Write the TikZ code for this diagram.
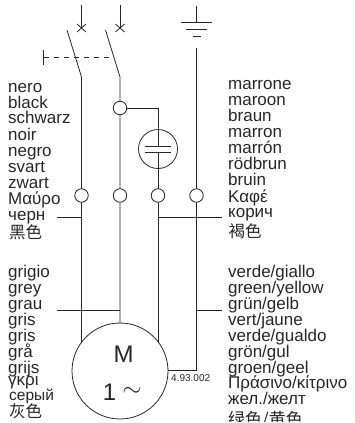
\documentclass[tikz,border=0pt]{standalone}
\usepackage{fontspec}
\setmainfont{Liberation Sans}
\newfontfamily\cjkf{Noto Sans CJK SC}
\tikzset{
 wire/.style={draw=black!85,line width=0.8pt},
 term/.style={circle,draw=black!85,line width=0.8pt,fill=white,minimum size=13.5pt,inner sep=0pt},
 lab/.style={anchor=base west,inner sep=0pt,text=black!85,font=\fontsize{17}{17}\selectfont},
 cjkl/.style={lab,font=\cjkf\fontsize{16.5}{17}\selectfont},
}
\begin{document}
\begin{tikzpicture}[x=1pt,y=-1pt]
\path[use as bounding box] (0,0) rectangle (355,423);
\begin{scope}
\clip (0,0) rectangle (355,421.5);
% coordinates
\coordinate (aT) at (81.5,5); \coordinate (bT) at (120,5);
\coordinate (aF) at (81.5,28); \coordinate (bF) at (120,28);
\coordinate (aB) at (67,30); \coordinate (bB) at (105.5,30);
\coordinate (aE) at (81.5,77); \coordinate (bE) at (120,77);
\node[circle,draw=black!85,line width=0.8pt,minimum size=96pt,inner sep=0pt] (motor) at (120,371) {};
\coordinate (aM) at (81.5,343); \coordinate (bM) at (120,323); \coordinate (cM) at (158,343);
\coordinate (dR) at (196.5,370);
\coordinate (dT) at (196.5,48); \coordinate (eT) at (196.5,6); \coordinate (eB) at (196.5,22);
% wires
\draw[wire] (aT)--(aF); \draw[wire] (bT)--(bF);
\draw[wire] (aB)--(aE)--(aM);
\draw[wire] (bB)--(bE)--(bM);
\draw[wire] (158,108)--(158,146);
\draw[wire] (158,152)--(cM);
\draw[wire] (dT)--(dR)--(168,370);
\draw[wire] (eT)--(eB);
\draw[wire] (181,22)--(212,22);
\draw[wire] (186,29)--(207,29);
\draw[wire] (192.5,36)--(201,36);
% crosses
\draw[wire] (77,24)--(86,32) (77,32)--(86,24);
\draw[wire] (115.5,24)--(124.5,32) (115.5,32)--(124.5,24);
% mechanical link
\draw[wire] (43,50)--(43,65);
\draw[wire,dash pattern=on 5pt off 5pt] (44,57.5)--(114,57.5);
% capacitor
\node[circle,draw=black!85,line width=0.8pt,minimum size=39pt,inner sep=0pt] (cap) at (158,149) {};
\draw[wire] (145,146)--(171,146) (145,152)--(171,152);
% terminals
\node[term] (t0) at (120,108) {};
\draw[wire] (t0)--(158,108);
\node[term] (t1) at (81.5,195.5) {};
\node[term] (t2) at (120,195.5) {};
\node[term] (t3) at (158,195.5) {};
\node[term] (t4) at (196.5,195.5) {};
% tap lines
\draw[wire] (57,217.5)--(81.5,217.5);
\draw[wire] (158,217.5)--(222,217.5);
\draw[wire] (57,310)--(120,310);
\draw[wire] (196.5,310)--(222,310);
% motor text
\node[anchor=base,inner sep=0pt,text=black!85,font=\fontsize{24}{24}\selectfont] (mM) at (123.5,362) {M};
\node[anchor=base,inner sep=0pt,text=black!85,font=\fontsize{24}{24}\selectfont] (m1) at (109.5,400) {1};
\node[anchor=center,inner sep=0pt,text=black!85,font=\fontsize{24}{24}\selectfont] (mt) at (132,392) {$\sim$};
\node[anchor=base west,inner sep=0pt,text=black!85,font=\fontsize{10}{10}\selectfont] (ref) at (171,381.5) {4.93.002};
% left labels
\node[lab] (l1) at (8,92) {nero};
\node[lab] (l2) at (8,108) {black};
\node[lab] (l3) at (8,123.5) {schwarz};
\node[lab] (l4) at (8,140) {noir};
\node[lab] (l5) at (8,156) {negro};
\node[lab] (l6) at (8,172) {svart};
\node[lab] (l7) at (8,188) {zwart};
\node[lab] (l8) at (8,204) {Μαύρο};
\node[lab] (l9) at (8,220) {черн};
\node[cjkl] (l10) at (9,238) {黑色};
\node[lab] (g1) at (8,277) {grigio};
\node[lab] (g2) at (8,293) {grey};
\node[lab] (g3) at (8,309) {grau};
\node[lab] (g4) at (8,325) {gris};
\node[lab] (g5) at (8,341) {gris};
\node[lab] (g6) at (8,357) {grå};
\node[lab] (g7) at (8,373) {grijs};
\node[lab] (g8) at (8,385) {γκρι};
\node[lab,font=\fontsize{15.5}{16}\selectfont] (g9) at (9,400) {серый};
\node[cjkl] (g10) at (9,417) {灰色};
% right labels
\node[lab] (r1) at (228,89) {marrone};
\node[lab] (r2) at (228,105) {maroon};
\node[lab] (r3) at (228,121) {braun};
\node[lab] (r4) at (228,137) {marron};
\node[lab] (r5) at (228,153) {marrón};
\node[lab] (r6) at (228,169) {rödbrun};
\node[lab] (r7) at (228,185) {bruin};
\node[lab] (r8) at (228,202) {Καφέ};
\node[lab] (r9) at (228,217) {корич};
\node[cjkl] (r10) at (228.5,237) {褐色};
\node[lab] (s1) at (228,277) {verde/giallo};
\node[lab] (s2) at (228,293) {green/yellow};
\node[lab] (s3) at (228,309) {grün/gelb};
\node[lab] (s4) at (228,325) {vert/jaune};
\node[lab] (s5) at (228,341) {verde/gualdo};
\node[lab] (s6) at (228,357) {grön/gul};
\node[lab] (s7) at (228,373) {groen/geel};
\node[lab] (s8) at (228,388) {Πράσινο/κίτρινο};
\node[lab] (s9) at (228,404) {жел./желт};
\node[cjkl,font=\cjkf\fontsize{17}{17}\selectfont] (s10) at (228,425.5) {绿色/黄色};
\end{scope}
\end{tikzpicture}
\end{document}
